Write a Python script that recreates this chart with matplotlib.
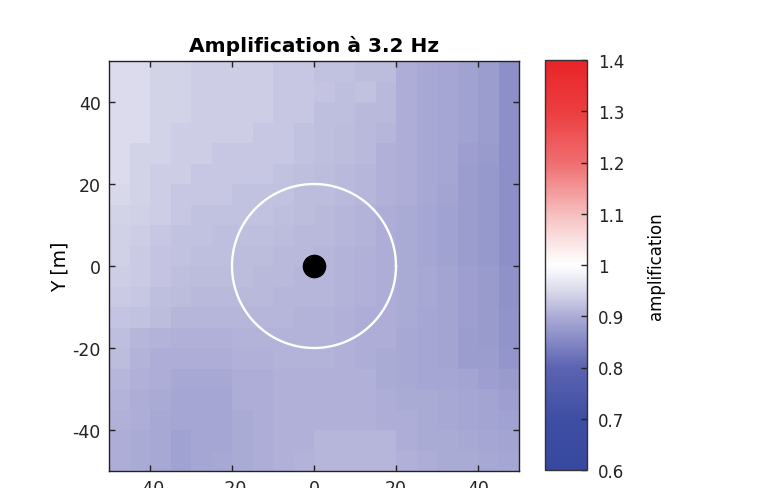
import numpy as np
import matplotlib
matplotlib.use("Agg")
import matplotlib.pyplot as plt
from matplotlib.colors import LinearSegmentedColormap

plt.rcParams['font.family'] = ['DejaVu Sans']
plt.rcParams['axes.unicode_minus'] = False

x_edges = list(range(-50, 55, 5))
y_edges = list(range(-50, 55, 5))

# rows listed from top (y 45..50) to bottom (y -50..-45), columns x -50..50
amp_rows_top_down = [
    [0.952,0.952,0.943,0.943,0.937,0.937,0.937,0.937,0.93,0.93,0.924,0.924,0.918,0.918,0.903,0.894,0.891,0.885,0.879,0.86],
    [0.952,0.952,0.943,0.943,0.937,0.937,0.937,0.937,0.93,0.93,0.928,0.921,0.924,0.915,0.903,0.894,0.891,0.885,0.879,0.86],
    [0.952,0.952,0.943,0.943,0.937,0.937,0.937,0.937,0.93,0.93,0.921,0.921,0.915,0.915,0.903,0.894,0.891,0.885,0.879,0.86],
    [0.952,0.952,0.943,0.937,0.937,0.937,0.937,0.93,0.93,0.924,0.921,0.918,0.915,0.912,0.903,0.894,0.891,0.885,0.879,0.86],
    [0.952,0.943,0.943,0.937,0.937,0.93,0.93,0.93,0.93,0.924,0.921,0.918,0.915,0.906,0.90,0.894,0.891,0.882,0.876,0.86],
    [0.952,0.943,0.937,0.937,0.93,0.93,0.93,0.93,0.924,0.921,0.918,0.915,0.912,0.906,0.90,0.894,0.891,0.879,0.873,0.86],
    [0.949,0.943,0.937,0.93,0.93,0.93,0.924,0.924,0.924,0.918,0.918,0.915,0.912,0.906,0.90,0.894,0.888,0.879,0.873,0.86],
    [0.943,0.94,0.937,0.93,0.924,0.924,0.924,0.924,0.921,0.918,0.915,0.912,0.909,0.903,0.897,0.891,0.885,0.879,0.873,0.86],
    [0.94,0.937,0.93,0.924,0.924,0.921,0.921,0.921,0.918,0.915,0.915,0.912,0.909,0.903,0.897,0.891,0.885,0.879,0.873,0.86],
    [0.94,0.934,0.927,0.924,0.921,0.921,0.918,0.918,0.915,0.915,0.912,0.909,0.906,0.903,0.897,0.891,0.885,0.879,0.873,0.86],
    [0.937,0.934,0.927,0.921,0.918,0.918,0.918,0.915,0.915,0.912,0.912,0.909,0.906,0.903,0.897,0.894,0.888,0.882,0.876,0.864],
    [0.934,0.93,0.921,0.918,0.915,0.915,0.915,0.915,0.912,0.912,0.912,0.909,0.906,0.903,0.897,0.894,0.888,0.882,0.876,0.864],
    [0.927,0.924,0.918,0.912,0.912,0.912,0.912,0.912,0.912,0.909,0.909,0.906,0.903,0.90,0.897,0.891,0.888,0.882,0.876,0.867],
    [0.921,0.912,0.909,0.906,0.906,0.906,0.909,0.909,0.909,0.909,0.909,0.906,0.903,0.90,0.894,0.891,0.888,0.879,0.876,0.867],
    [0.918,0.909,0.903,0.90,0.90,0.90,0.906,0.906,0.909,0.909,0.909,0.906,0.903,0.897,0.894,0.891,0.888,0.879,0.879,0.87],
    [0.912,0.906,0.90,0.894,0.894,0.894,0.90,0.903,0.906,0.906,0.906,0.906,0.906,0.897,0.894,0.891,0.891,0.888,0.882,0.876],
    [0.909,0.903,0.897,0.891,0.891,0.891,0.90,0.903,0.906,0.906,0.906,0.906,0.906,0.903,0.897,0.897,0.894,0.891,0.888,0.882],
    [0.906,0.90,0.894,0.891,0.891,0.891,0.897,0.903,0.906,0.906,0.906,0.906,0.906,0.903,0.90,0.897,0.894,0.891,0.888,0.885],
    [0.903,0.897,0.894,0.885,0.891,0.891,0.897,0.903,0.906,0.906,0.912,0.912,0.912,0.912,0.903,0.897,0.897,0.894,0.891,0.888],
    [0.90,0.897,0.894,0.885,0.891,0.894,0.897,0.903,0.906,0.909,0.912,0.912,0.912,0.912,0.906,0.90,0.897,0.897,0.894,0.891],
]

circle_radius = 20
source_xy = (0, 0)
ticks = [-40, -20, 0, 20, 40]
cbar_ticks = [0.6, 0.7, 0.8, 0.9, 1.0, 1.1, 1.2, 1.3, 1.4]
cbar_labels = ['0.6', '0.7', '0.8', '0.9', '1', '1.1', '1.2', '1.3', '1.4']

cmap_anchors = [
    (0.0,    (55, 72, 160)),
    (0.125,  (62, 78, 163)),
    (0.25,   (92, 100, 178)),
    (0.375,  (172, 172, 214)),
    (0.4375, (218, 218, 236)),
    (0.5,    (255, 255, 255)),
    (0.5625, (250, 225, 225)),
    (0.625,  (246, 190, 190)),
    (0.75,   (240, 110, 112)),
    (0.875,  (236, 62, 64)),
    (1.0,    (232, 36, 40)),
]
cmap = LinearSegmentedColormap.from_list(
    'bwr_custom', [(p, tuple(c / 255 for c in rgb)) for p, rgb in cmap_anchors])

fig = plt.figure(figsize=(7.7, 4.89), dpi=100)
ax = fig.add_axes([109 / 770, 17 / 489, 410 / 770, 410 / 489])
Z = np.array(amp_rows_top_down)[::-1]
mesh = ax.pcolormesh(x_edges, y_edges, Z, cmap=cmap, vmin=0.6, vmax=1.4,
                     shading='flat')
theta = np.linspace(0, 2 * np.pi, 400)
ax.plot(source_xy[0] + circle_radius * np.cos(theta),
        source_xy[1] + circle_radius * np.sin(theta), color='white', lw=1.7)
ax.plot([source_xy[0]], [source_xy[1]], 'o', color='black', ms=16)
ax.set_xlim(-50, 50)
ax.set_ylim(-50, 50)
ax.set_xticks(ticks)
ax.set_yticks(ticks)
ax.tick_params(direction='in', top=True, right=True, length=4, width=1,
               labelsize=12.5, colors='#222222', pad=6)
for s in ax.spines.values():
    s.set_linewidth(1.0)
    s.set_color('#222222')
ax.set_title('Amplification à 3.2 Hz', fontsize=14.5, fontweight='bold', pad=7)
ax.set_ylabel('Y [m]', fontsize=13.5, labelpad=2)

cax = fig.add_axes([545 / 770, 18 / 489, 42 / 770, 410 / 489])
cb = fig.colorbar(mesh, cax=cax, ticks=cbar_ticks)
cb.ax.set_yticklabels(cbar_labels)
cb.ax.tick_params(direction='in', length=4, width=1, labelsize=12,
                  colors='#222222', pad=8)
cb.outline.set_edgecolor('#333333')
cb.outline.set_linewidth(1.0)
cb.set_label('amplification', fontsize=12, labelpad=16)

fig.savefig('out.png', dpi=100)
